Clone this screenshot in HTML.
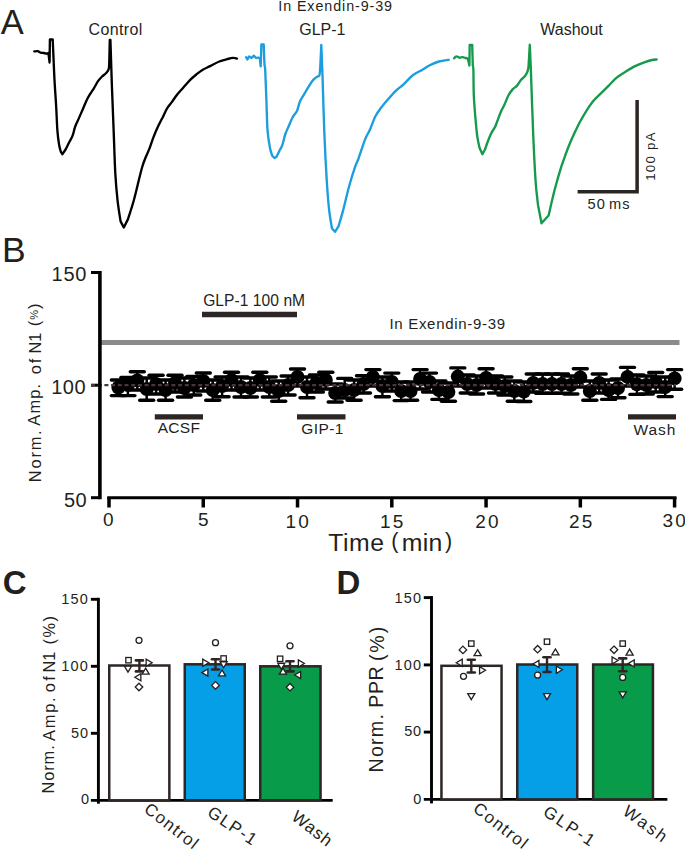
<!DOCTYPE html>
<html><head><meta charset="utf-8"><style>
html,body{margin:0;padding:0;background:#fff;}
svg{display:block;font-family:"Liberation Sans", sans-serif;}
</style></head><body>
<svg width="685" height="849" viewBox="0 0 685 849">
<rect width="685" height="849" fill="#fff"/>
<path d="M34.30,51.40 C34.87,51.35 36.63,50.88 37.70,51.10 C38.77,51.32 39.68,52.38 40.70,52.70 C41.72,53.02 42.78,52.83 43.80,53.00 C44.82,53.17 46.30,53.58 46.80,53.70 L48.40,53.00 L49.60,62.50 L49.90,39.50 L52.70,39.50 L53.30,53.00 C53.50,57.50 54.02,71.00 54.50,80.00 C54.98,89.00 55.72,98.55 56.20,107.00 C56.68,115.45 56.92,124.40 57.40,130.70 C57.88,137.00 58.52,141.27 59.10,144.80 C59.68,148.33 60.60,150.72 60.90,151.90 L62.30,154.20 L65.60,149.50 C66.18,148.33 67.92,144.85 69.10,142.50 C70.28,140.15 71.72,137.97 72.70,135.40 C73.68,132.83 74.02,129.85 75.00,127.10 C75.98,124.35 77.32,121.83 78.60,118.90 C79.88,115.97 81.43,112.45 82.70,109.50 C83.97,106.55 85.03,103.67 86.20,101.20 C87.37,98.73 88.42,96.85 89.70,94.70 C90.98,92.55 92.52,90.55 93.90,88.30 C95.28,86.05 96.63,83.17 98.00,81.20 C99.37,79.23 100.73,77.87 102.10,76.50 C103.47,75.13 105.12,74.18 106.20,73.00 C107.28,71.82 108.10,70.78 108.60,69.40 C109.10,68.02 109.10,65.48 109.20,64.70 L109.80,39.80 L110.40,39.80 L111.90,86.00 C112.20,93.65 113.13,117.37 113.70,131.90 C114.27,146.43 114.65,161.72 115.30,173.20 C115.95,184.68 116.72,192.77 117.60,200.80 C118.48,208.83 120.10,217.97 120.60,221.40 L123.80,227.50 L128.00,219.10 C128.95,216.05 131.80,207.68 133.70,200.80 C135.60,193.92 137.93,183.60 139.40,177.80 C140.87,172.00 141.45,169.42 142.50,166.00 C143.55,162.58 144.52,160.28 145.70,157.30 C146.88,154.32 148.32,151.42 149.60,148.10 C150.88,144.78 152.00,140.98 153.40,137.40 C154.80,133.82 156.33,130.18 158.00,126.60 C159.67,123.02 161.87,118.97 163.40,115.90 C164.93,112.83 165.80,110.50 167.20,108.20 C168.60,105.90 170.13,104.38 171.80,102.10 C173.47,99.82 175.17,97.05 177.20,94.50 C179.23,91.95 181.83,89.23 184.00,86.80 C186.17,84.37 188.15,81.95 190.20,79.90 C192.25,77.85 194.27,76.17 196.30,74.50 C198.33,72.83 200.10,71.30 202.40,69.90 C204.70,68.50 207.28,67.50 210.10,66.10 C212.92,64.70 216.48,62.65 219.30,61.50 C222.12,60.35 224.70,59.80 227.00,59.20 C229.30,58.60 231.43,58.00 233.10,57.90 C234.77,57.80 236.35,58.48 237.00,58.60" fill="none" stroke="#000" stroke-width="2.35" stroke-linejoin="round" stroke-linecap="round"/>
<path d="M246.10,57.20 L247.40,59.50 L249.20,56.40 L251.50,58.00 L253.80,55.70 L256.10,58.00 C256.48,57.95 257.77,57.58 258.40,57.70 C259.03,57.82 259.65,58.53 259.90,58.70 L260.70,66.40 L261.40,44.50 L263.70,44.50 L264.50,65.60 C264.62,66.33 264.88,64.22 265.20,70.00 C265.52,75.78 266.02,90.33 266.40,100.30 C266.78,110.27 266.92,121.93 267.50,129.80 C268.08,137.67 269.12,143.18 269.90,147.50 C270.68,151.82 271.82,154.33 272.20,155.70 L274.40,158.00 L276.40,156.90 C276.88,155.92 278.32,152.97 279.30,151.00 C280.28,149.03 281.32,147.85 282.30,145.10 C283.28,142.35 284.13,137.65 285.20,134.50 C286.27,131.35 287.42,129.15 288.70,126.20 C289.98,123.25 291.52,119.35 292.90,116.80 C294.28,114.25 295.83,113.45 297.00,110.90 C298.17,108.35 298.73,104.25 299.90,101.50 C301.07,98.75 302.62,96.75 304.00,94.40 C305.38,92.05 306.72,89.75 308.20,87.40 C309.68,85.05 311.43,82.07 312.90,80.30 C314.37,78.53 315.92,77.63 317.00,76.80 C318.08,75.97 318.87,76.77 319.40,75.30 C319.93,73.83 320.07,69.22 320.20,68.00 L321.30,45.00 L322.50,75.30 C322.82,85.12 323.68,116.53 324.40,134.20 C325.12,151.87 326.02,168.73 326.80,181.30 C327.58,193.87 328.23,201.73 329.10,209.60 C329.97,217.47 331.52,225.35 332.00,228.50 L335.00,231.80 L338.60,226.10 C339.38,223.35 341.53,216.28 343.30,209.60 C345.07,202.92 347.25,193.07 349.20,186.00 C351.15,178.93 353.47,171.73 355.00,167.20 C356.53,162.67 357.32,161.73 358.40,158.80 C359.48,155.87 360.35,152.92 361.50,149.60 C362.65,146.28 363.90,142.22 365.30,138.90 C366.70,135.58 368.23,133.43 369.90,129.70 C371.57,125.97 373.50,120.08 375.30,116.50 C377.10,112.92 378.53,111.12 380.70,108.20 C382.87,105.28 385.75,101.93 388.30,99.00 C390.85,96.07 393.45,93.05 396.00,90.60 C398.55,88.15 400.80,86.85 403.60,84.30 C406.40,81.75 409.73,77.70 412.80,75.30 C415.87,72.90 419.18,71.57 422.00,69.90 C424.82,68.23 426.88,66.70 429.70,65.30 C432.52,63.90 435.75,62.42 438.90,61.50 C442.05,60.58 446.98,60.08 448.60,59.80" fill="none" stroke="#1b9ddf" stroke-width="2.35" stroke-linejoin="round" stroke-linecap="round"/>
<path d="M454.10,58.30 C454.48,57.98 455.50,56.50 456.40,56.40 C457.30,56.30 458.48,57.57 459.50,57.70 C460.52,57.83 461.48,57.15 462.50,57.20 C463.52,57.25 464.70,57.75 465.60,58.00 C466.50,58.25 467.52,58.58 467.90,58.70 L469.40,65.60 L469.70,44.80 L472.20,44.80 L472.80,65.60 C472.90,66.33 473.23,65.05 473.40,70.00 C473.57,74.95 473.45,87.15 473.80,95.30 C474.15,103.45 474.92,112.02 475.50,118.90 C476.08,125.78 476.60,131.70 477.30,136.60 C478.00,141.50 479.30,146.35 479.70,148.30 L482.40,154.20 L485.00,149.50 C485.48,148.13 486.83,144.05 487.90,141.30 C488.97,138.55 490.22,135.37 491.40,133.00 C492.58,130.63 494.02,129.07 495.00,127.10 C495.98,125.13 496.32,123.75 497.30,121.20 C498.28,118.65 499.72,114.53 500.90,111.80 C502.08,109.07 503.13,107.55 504.40,104.80 C505.67,102.05 507.13,97.87 508.50,95.30 C509.87,92.73 511.22,90.97 512.60,89.40 C513.98,87.83 515.42,87.47 516.80,85.90 C518.18,84.33 519.53,81.67 520.90,80.00 C522.27,78.33 523.92,77.27 525.00,75.90 C526.08,74.53 526.82,73.27 527.40,71.80 C527.98,70.33 528.32,67.88 528.50,67.10 L529.80,44.80 L530.90,70.60 C531.28,81.20 532.42,115.75 533.20,134.20 C533.98,152.65 534.80,169.52 535.60,181.30 C536.40,193.08 537.60,200.97 538.00,204.90 L541.50,223.30 L548.60,215.50 C549.57,211.38 552.45,198.40 554.40,190.80 C556.35,183.20 558.60,175.48 560.30,169.90 C562.00,164.32 563.12,161.45 564.60,157.30 C566.08,153.15 567.53,149.08 569.20,145.00 C570.87,140.92 572.82,136.63 574.60,132.80 C576.38,128.97 577.98,125.58 579.90,122.00 C581.82,118.42 583.80,114.87 586.10,111.30 C588.40,107.73 591.15,103.67 593.70,100.60 C596.25,97.53 598.85,95.45 601.40,92.90 C603.95,90.35 606.45,87.85 609.00,85.30 C611.55,82.75 613.88,79.90 616.70,77.60 C619.52,75.30 622.83,73.42 625.90,71.50 C628.97,69.58 632.03,67.63 635.10,66.10 C638.17,64.57 641.48,63.32 644.30,62.30 C647.12,61.28 649.95,60.47 652.00,60.00 C654.05,59.53 655.83,59.58 656.60,59.50" fill="none" stroke="#15994b" stroke-width="2.35" stroke-linejoin="round" stroke-linecap="round"/>
<polyline points="577.6,191.7 637.1,191.7 637.1,100.1" fill="none" stroke="#2b2523" stroke-width="3.5"/>
<line x1="100" y1="342.5" x2="679.5" y2="342.5" stroke="#8b8b8b" stroke-width="5.2"/>
<line x1="202" y1="314.5" x2="297" y2="314.5" stroke="#2e2624" stroke-width="5.3"/>
<line x1="154.8" y1="416.8" x2="203" y2="416.8" stroke="#2e2624" stroke-width="5.3"/>
<line x1="297" y1="416.9" x2="345.5" y2="416.9" stroke="#2e2624" stroke-width="5.3"/>
<line x1="628" y1="416.9" x2="676" y2="416.9" stroke="#2e2624" stroke-width="5.3"/>
<line x1="118.4" y1="380.0" x2="118.4" y2="395.6" stroke="#000" stroke-width="2.5"/>
<line x1="111.4" y1="380.0" x2="125.4" y2="380.0" stroke="#000" stroke-width="3.4" stroke-linecap="round"/>
<line x1="111.4" y1="395.6" x2="125.4" y2="395.6" stroke="#000" stroke-width="3.4" stroke-linecap="round"/>
<circle cx="118.4" cy="387.5" r="7" fill="#000"/>
<line x1="127.9" y1="377.5" x2="127.9" y2="395.6" stroke="#000" stroke-width="2.5"/>
<line x1="120.9" y1="377.5" x2="134.9" y2="377.5" stroke="#000" stroke-width="3.4" stroke-linecap="round"/>
<line x1="120.9" y1="395.6" x2="134.9" y2="395.6" stroke="#000" stroke-width="3.4" stroke-linecap="round"/>
<circle cx="127.9" cy="385.0" r="7" fill="#000"/>
<line x1="137.3" y1="371.7" x2="137.3" y2="390.0" stroke="#000" stroke-width="2.5"/>
<line x1="130.3" y1="371.7" x2="144.3" y2="371.7" stroke="#000" stroke-width="3.4" stroke-linecap="round"/>
<line x1="130.3" y1="390.0" x2="144.3" y2="390.0" stroke="#000" stroke-width="3.4" stroke-linecap="round"/>
<circle cx="137.3" cy="380.4" r="7" fill="#000"/>
<line x1="146.7" y1="378.0" x2="146.7" y2="400.3" stroke="#000" stroke-width="2.5"/>
<line x1="139.7" y1="378.0" x2="153.7" y2="378.0" stroke="#000" stroke-width="3.4" stroke-linecap="round"/>
<line x1="139.7" y1="400.3" x2="153.7" y2="400.3" stroke="#000" stroke-width="3.4" stroke-linecap="round"/>
<circle cx="146.7" cy="389.0" r="7" fill="#000"/>
<line x1="156.1" y1="375.2" x2="156.1" y2="394.0" stroke="#000" stroke-width="2.5"/>
<line x1="149.1" y1="375.2" x2="163.1" y2="375.2" stroke="#000" stroke-width="3.4" stroke-linecap="round"/>
<line x1="149.1" y1="394.0" x2="163.1" y2="394.0" stroke="#000" stroke-width="3.4" stroke-linecap="round"/>
<circle cx="156.1" cy="384.0" r="7" fill="#000"/>
<line x1="165.6" y1="380.0" x2="165.6" y2="400.3" stroke="#000" stroke-width="2.5"/>
<line x1="158.6" y1="380.0" x2="172.6" y2="380.0" stroke="#000" stroke-width="3.4" stroke-linecap="round"/>
<line x1="158.6" y1="400.3" x2="172.6" y2="400.3" stroke="#000" stroke-width="3.4" stroke-linecap="round"/>
<circle cx="165.6" cy="390.0" r="7" fill="#000"/>
<line x1="175.0" y1="375.2" x2="175.0" y2="392.0" stroke="#000" stroke-width="2.5"/>
<line x1="168.0" y1="375.2" x2="182.0" y2="375.2" stroke="#000" stroke-width="3.4" stroke-linecap="round"/>
<line x1="168.0" y1="392.0" x2="182.0" y2="392.0" stroke="#000" stroke-width="3.4" stroke-linecap="round"/>
<circle cx="175.0" cy="383.0" r="7" fill="#000"/>
<line x1="184.4" y1="378.0" x2="184.4" y2="397.0" stroke="#000" stroke-width="2.5"/>
<line x1="177.4" y1="378.0" x2="191.4" y2="378.0" stroke="#000" stroke-width="3.4" stroke-linecap="round"/>
<line x1="177.4" y1="397.0" x2="191.4" y2="397.0" stroke="#000" stroke-width="3.4" stroke-linecap="round"/>
<circle cx="184.4" cy="388.0" r="7" fill="#000"/>
<line x1="193.8" y1="376.5" x2="193.8" y2="395.0" stroke="#000" stroke-width="2.5"/>
<line x1="186.8" y1="376.5" x2="200.8" y2="376.5" stroke="#000" stroke-width="3.4" stroke-linecap="round"/>
<line x1="186.8" y1="395.0" x2="200.8" y2="395.0" stroke="#000" stroke-width="3.4" stroke-linecap="round"/>
<circle cx="193.8" cy="385.0" r="7" fill="#000"/>
<line x1="203.3" y1="373.0" x2="203.3" y2="391.0" stroke="#000" stroke-width="2.5"/>
<line x1="196.3" y1="373.0" x2="210.3" y2="373.0" stroke="#000" stroke-width="3.4" stroke-linecap="round"/>
<line x1="196.3" y1="391.0" x2="210.3" y2="391.0" stroke="#000" stroke-width="3.4" stroke-linecap="round"/>
<circle cx="203.3" cy="381.0" r="7" fill="#000"/>
<line x1="212.7" y1="380.0" x2="212.7" y2="400.3" stroke="#000" stroke-width="2.5"/>
<line x1="205.7" y1="380.0" x2="219.7" y2="380.0" stroke="#000" stroke-width="3.4" stroke-linecap="round"/>
<line x1="205.7" y1="400.3" x2="219.7" y2="400.3" stroke="#000" stroke-width="3.4" stroke-linecap="round"/>
<circle cx="212.7" cy="390.0" r="7" fill="#000"/>
<line x1="222.1" y1="377.0" x2="222.1" y2="396.8" stroke="#000" stroke-width="2.5"/>
<line x1="215.1" y1="377.0" x2="229.1" y2="377.0" stroke="#000" stroke-width="3.4" stroke-linecap="round"/>
<line x1="215.1" y1="396.8" x2="229.1" y2="396.8" stroke="#000" stroke-width="3.4" stroke-linecap="round"/>
<circle cx="222.1" cy="386.0" r="7" fill="#000"/>
<line x1="231.5" y1="372.3" x2="231.5" y2="390.0" stroke="#000" stroke-width="2.5"/>
<line x1="224.5" y1="372.3" x2="238.5" y2="372.3" stroke="#000" stroke-width="3.4" stroke-linecap="round"/>
<line x1="224.5" y1="390.0" x2="238.5" y2="390.0" stroke="#000" stroke-width="3.4" stroke-linecap="round"/>
<circle cx="231.5" cy="380.0" r="7" fill="#000"/>
<line x1="241.0" y1="377.0" x2="241.0" y2="397.0" stroke="#000" stroke-width="2.5"/>
<line x1="234.0" y1="377.0" x2="248.0" y2="377.0" stroke="#000" stroke-width="3.4" stroke-linecap="round"/>
<line x1="234.0" y1="397.0" x2="248.0" y2="397.0" stroke="#000" stroke-width="3.4" stroke-linecap="round"/>
<circle cx="241.0" cy="387.0" r="7" fill="#000"/>
<line x1="250.4" y1="378.0" x2="250.4" y2="397.0" stroke="#000" stroke-width="2.5"/>
<line x1="243.4" y1="378.0" x2="257.4" y2="378.0" stroke="#000" stroke-width="3.4" stroke-linecap="round"/>
<line x1="243.4" y1="397.0" x2="257.4" y2="397.0" stroke="#000" stroke-width="3.4" stroke-linecap="round"/>
<circle cx="250.4" cy="388.0" r="7" fill="#000"/>
<line x1="259.8" y1="372.3" x2="259.8" y2="390.0" stroke="#000" stroke-width="2.5"/>
<line x1="252.8" y1="372.3" x2="266.8" y2="372.3" stroke="#000" stroke-width="3.4" stroke-linecap="round"/>
<line x1="252.8" y1="390.0" x2="266.8" y2="390.0" stroke="#000" stroke-width="3.4" stroke-linecap="round"/>
<circle cx="259.8" cy="380.0" r="7" fill="#000"/>
<line x1="269.3" y1="377.0" x2="269.3" y2="397.0" stroke="#000" stroke-width="2.5"/>
<line x1="262.3" y1="377.0" x2="276.3" y2="377.0" stroke="#000" stroke-width="3.4" stroke-linecap="round"/>
<line x1="262.3" y1="397.0" x2="276.3" y2="397.0" stroke="#000" stroke-width="3.4" stroke-linecap="round"/>
<circle cx="269.3" cy="387.0" r="7" fill="#000"/>
<line x1="278.7" y1="381.0" x2="278.7" y2="401.2" stroke="#000" stroke-width="2.5"/>
<line x1="271.7" y1="381.0" x2="285.7" y2="381.0" stroke="#000" stroke-width="3.4" stroke-linecap="round"/>
<line x1="271.7" y1="401.2" x2="285.7" y2="401.2" stroke="#000" stroke-width="3.4" stroke-linecap="round"/>
<circle cx="278.7" cy="391.0" r="7" fill="#000"/>
<line x1="288.1" y1="376.0" x2="288.1" y2="395.0" stroke="#000" stroke-width="2.5"/>
<line x1="281.1" y1="376.0" x2="295.1" y2="376.0" stroke="#000" stroke-width="3.4" stroke-linecap="round"/>
<line x1="281.1" y1="395.0" x2="295.1" y2="395.0" stroke="#000" stroke-width="3.4" stroke-linecap="round"/>
<circle cx="288.1" cy="385.0" r="7" fill="#000"/>
<line x1="297.5" y1="369.0" x2="297.5" y2="386.0" stroke="#000" stroke-width="2.5"/>
<line x1="290.5" y1="369.0" x2="304.5" y2="369.0" stroke="#000" stroke-width="3.4" stroke-linecap="round"/>
<line x1="290.5" y1="386.0" x2="304.5" y2="386.0" stroke="#000" stroke-width="3.4" stroke-linecap="round"/>
<circle cx="297.5" cy="377.0" r="7" fill="#000"/>
<line x1="307.0" y1="377.0" x2="307.0" y2="397.7" stroke="#000" stroke-width="2.5"/>
<line x1="300.0" y1="377.0" x2="314.0" y2="377.0" stroke="#000" stroke-width="3.4" stroke-linecap="round"/>
<line x1="300.0" y1="397.7" x2="314.0" y2="397.7" stroke="#000" stroke-width="3.4" stroke-linecap="round"/>
<circle cx="307.0" cy="387.0" r="7" fill="#000"/>
<line x1="316.4" y1="375.0" x2="316.4" y2="392.0" stroke="#000" stroke-width="2.5"/>
<line x1="309.4" y1="375.0" x2="323.4" y2="375.0" stroke="#000" stroke-width="3.4" stroke-linecap="round"/>
<line x1="309.4" y1="392.0" x2="323.4" y2="392.0" stroke="#000" stroke-width="3.4" stroke-linecap="round"/>
<circle cx="316.4" cy="383.0" r="7" fill="#000"/>
<line x1="325.8" y1="372.3" x2="325.8" y2="389.0" stroke="#000" stroke-width="2.5"/>
<line x1="318.8" y1="372.3" x2="332.8" y2="372.3" stroke="#000" stroke-width="3.4" stroke-linecap="round"/>
<line x1="318.8" y1="389.0" x2="332.8" y2="389.0" stroke="#000" stroke-width="3.4" stroke-linecap="round"/>
<circle cx="325.8" cy="380.0" r="7" fill="#000"/>
<line x1="335.2" y1="384.0" x2="335.2" y2="402.0" stroke="#000" stroke-width="2.5"/>
<line x1="328.2" y1="384.0" x2="342.2" y2="384.0" stroke="#000" stroke-width="3.4" stroke-linecap="round"/>
<line x1="328.2" y1="402.0" x2="342.2" y2="402.0" stroke="#000" stroke-width="3.4" stroke-linecap="round"/>
<circle cx="335.2" cy="393.0" r="7" fill="#000"/>
<line x1="344.7" y1="378.4" x2="344.7" y2="398.0" stroke="#000" stroke-width="2.5"/>
<line x1="337.7" y1="378.4" x2="351.7" y2="378.4" stroke="#000" stroke-width="3.4" stroke-linecap="round"/>
<line x1="337.7" y1="398.0" x2="351.7" y2="398.0" stroke="#000" stroke-width="3.4" stroke-linecap="round"/>
<circle cx="344.7" cy="390.0" r="7" fill="#000"/>
<line x1="354.1" y1="380.0" x2="354.1" y2="400.3" stroke="#000" stroke-width="2.5"/>
<line x1="347.1" y1="380.0" x2="361.1" y2="380.0" stroke="#000" stroke-width="3.4" stroke-linecap="round"/>
<line x1="347.1" y1="400.3" x2="361.1" y2="400.3" stroke="#000" stroke-width="3.4" stroke-linecap="round"/>
<circle cx="354.1" cy="390.0" r="7" fill="#000"/>
<line x1="363.5" y1="375.8" x2="363.5" y2="393.0" stroke="#000" stroke-width="2.5"/>
<line x1="356.5" y1="375.8" x2="370.5" y2="375.8" stroke="#000" stroke-width="3.4" stroke-linecap="round"/>
<line x1="356.5" y1="393.0" x2="370.5" y2="393.0" stroke="#000" stroke-width="3.4" stroke-linecap="round"/>
<circle cx="363.5" cy="384.0" r="7" fill="#000"/>
<line x1="372.9" y1="369.6" x2="372.9" y2="386.0" stroke="#000" stroke-width="2.5"/>
<line x1="365.9" y1="369.6" x2="379.9" y2="369.6" stroke="#000" stroke-width="3.4" stroke-linecap="round"/>
<line x1="365.9" y1="386.0" x2="379.9" y2="386.0" stroke="#000" stroke-width="3.4" stroke-linecap="round"/>
<circle cx="372.9" cy="377.0" r="7" fill="#000"/>
<line x1="382.4" y1="377.0" x2="382.4" y2="396.8" stroke="#000" stroke-width="2.5"/>
<line x1="375.4" y1="377.0" x2="389.4" y2="377.0" stroke="#000" stroke-width="3.4" stroke-linecap="round"/>
<line x1="375.4" y1="396.8" x2="389.4" y2="396.8" stroke="#000" stroke-width="3.4" stroke-linecap="round"/>
<circle cx="382.4" cy="386.0" r="7" fill="#000"/>
<line x1="391.8" y1="373.1" x2="391.8" y2="391.0" stroke="#000" stroke-width="2.5"/>
<line x1="384.8" y1="373.1" x2="398.8" y2="373.1" stroke="#000" stroke-width="3.4" stroke-linecap="round"/>
<line x1="384.8" y1="391.0" x2="398.8" y2="391.0" stroke="#000" stroke-width="3.4" stroke-linecap="round"/>
<circle cx="391.8" cy="382.0" r="7" fill="#000"/>
<line x1="401.2" y1="382.0" x2="401.2" y2="400.6" stroke="#000" stroke-width="2.5"/>
<line x1="394.2" y1="382.0" x2="408.2" y2="382.0" stroke="#000" stroke-width="3.4" stroke-linecap="round"/>
<line x1="394.2" y1="400.6" x2="408.2" y2="400.6" stroke="#000" stroke-width="3.4" stroke-linecap="round"/>
<circle cx="401.2" cy="391.0" r="7" fill="#000"/>
<line x1="410.6" y1="382.0" x2="410.6" y2="400.3" stroke="#000" stroke-width="2.5"/>
<line x1="403.6" y1="382.0" x2="417.6" y2="382.0" stroke="#000" stroke-width="3.4" stroke-linecap="round"/>
<line x1="403.6" y1="400.3" x2="417.6" y2="400.3" stroke="#000" stroke-width="3.4" stroke-linecap="round"/>
<circle cx="410.6" cy="391.0" r="7" fill="#000"/>
<line x1="420.1" y1="369.6" x2="420.1" y2="389.0" stroke="#000" stroke-width="2.5"/>
<line x1="413.1" y1="369.6" x2="427.1" y2="369.6" stroke="#000" stroke-width="3.4" stroke-linecap="round"/>
<line x1="413.1" y1="389.0" x2="427.1" y2="389.0" stroke="#000" stroke-width="3.4" stroke-linecap="round"/>
<circle cx="420.1" cy="379.0" r="7" fill="#000"/>
<line x1="429.5" y1="373.1" x2="429.5" y2="392.0" stroke="#000" stroke-width="2.5"/>
<line x1="422.5" y1="373.1" x2="436.5" y2="373.1" stroke="#000" stroke-width="3.4" stroke-linecap="round"/>
<line x1="422.5" y1="392.0" x2="436.5" y2="392.0" stroke="#000" stroke-width="3.4" stroke-linecap="round"/>
<circle cx="429.5" cy="382.0" r="7" fill="#000"/>
<line x1="438.9" y1="381.0" x2="438.9" y2="399.4" stroke="#000" stroke-width="2.5"/>
<line x1="431.9" y1="381.0" x2="445.9" y2="381.0" stroke="#000" stroke-width="3.4" stroke-linecap="round"/>
<line x1="431.9" y1="399.4" x2="445.9" y2="399.4" stroke="#000" stroke-width="3.4" stroke-linecap="round"/>
<circle cx="438.9" cy="390.0" r="7" fill="#000"/>
<line x1="448.4" y1="383.0" x2="448.4" y2="401.2" stroke="#000" stroke-width="2.5"/>
<line x1="441.4" y1="383.0" x2="455.4" y2="383.0" stroke="#000" stroke-width="3.4" stroke-linecap="round"/>
<line x1="441.4" y1="401.2" x2="455.4" y2="401.2" stroke="#000" stroke-width="3.4" stroke-linecap="round"/>
<circle cx="448.4" cy="392.0" r="7" fill="#000"/>
<line x1="457.8" y1="367.9" x2="457.8" y2="386.0" stroke="#000" stroke-width="2.5"/>
<line x1="450.8" y1="367.9" x2="464.8" y2="367.9" stroke="#000" stroke-width="3.4" stroke-linecap="round"/>
<line x1="450.8" y1="386.0" x2="464.8" y2="386.0" stroke="#000" stroke-width="3.4" stroke-linecap="round"/>
<circle cx="457.8" cy="376.6" r="7" fill="#000"/>
<line x1="467.2" y1="375.0" x2="467.2" y2="393.0" stroke="#000" stroke-width="2.5"/>
<line x1="460.2" y1="375.0" x2="474.2" y2="375.0" stroke="#000" stroke-width="3.4" stroke-linecap="round"/>
<line x1="460.2" y1="393.0" x2="474.2" y2="393.0" stroke="#000" stroke-width="3.4" stroke-linecap="round"/>
<circle cx="467.2" cy="384.0" r="7" fill="#000"/>
<line x1="476.6" y1="376.0" x2="476.6" y2="394.0" stroke="#000" stroke-width="2.5"/>
<line x1="469.6" y1="376.0" x2="483.6" y2="376.0" stroke="#000" stroke-width="3.4" stroke-linecap="round"/>
<line x1="469.6" y1="394.0" x2="483.6" y2="394.0" stroke="#000" stroke-width="3.4" stroke-linecap="round"/>
<circle cx="476.6" cy="385.0" r="7" fill="#000"/>
<line x1="486.1" y1="368.8" x2="486.1" y2="388.0" stroke="#000" stroke-width="2.5"/>
<line x1="479.1" y1="368.8" x2="493.1" y2="368.8" stroke="#000" stroke-width="3.4" stroke-linecap="round"/>
<line x1="479.1" y1="388.0" x2="493.1" y2="388.0" stroke="#000" stroke-width="3.4" stroke-linecap="round"/>
<circle cx="486.1" cy="378.0" r="7" fill="#000"/>
<line x1="495.5" y1="376.0" x2="495.5" y2="393.0" stroke="#000" stroke-width="2.5"/>
<line x1="488.5" y1="376.0" x2="502.5" y2="376.0" stroke="#000" stroke-width="3.4" stroke-linecap="round"/>
<line x1="488.5" y1="393.0" x2="502.5" y2="393.0" stroke="#000" stroke-width="3.4" stroke-linecap="round"/>
<circle cx="495.5" cy="384.0" r="7" fill="#000"/>
<line x1="504.9" y1="377.0" x2="504.9" y2="395.0" stroke="#000" stroke-width="2.5"/>
<line x1="497.9" y1="377.0" x2="511.9" y2="377.0" stroke="#000" stroke-width="3.4" stroke-linecap="round"/>
<line x1="497.9" y1="395.0" x2="511.9" y2="395.0" stroke="#000" stroke-width="3.4" stroke-linecap="round"/>
<circle cx="504.9" cy="386.0" r="7" fill="#000"/>
<line x1="514.3" y1="381.0" x2="514.3" y2="401.2" stroke="#000" stroke-width="2.5"/>
<line x1="507.3" y1="381.0" x2="521.3" y2="381.0" stroke="#000" stroke-width="3.4" stroke-linecap="round"/>
<line x1="507.3" y1="401.2" x2="521.3" y2="401.2" stroke="#000" stroke-width="3.4" stroke-linecap="round"/>
<circle cx="514.3" cy="391.0" r="7" fill="#000"/>
<line x1="523.8" y1="382.0" x2="523.8" y2="401.5" stroke="#000" stroke-width="2.5"/>
<line x1="516.8" y1="382.0" x2="530.8" y2="382.0" stroke="#000" stroke-width="3.4" stroke-linecap="round"/>
<line x1="516.8" y1="401.5" x2="530.8" y2="401.5" stroke="#000" stroke-width="3.4" stroke-linecap="round"/>
<circle cx="523.8" cy="391.5" r="7" fill="#000"/>
<line x1="533.2" y1="374.0" x2="533.2" y2="392.0" stroke="#000" stroke-width="2.5"/>
<line x1="526.2" y1="374.0" x2="540.2" y2="374.0" stroke="#000" stroke-width="3.4" stroke-linecap="round"/>
<line x1="526.2" y1="392.0" x2="540.2" y2="392.0" stroke="#000" stroke-width="3.4" stroke-linecap="round"/>
<circle cx="533.2" cy="383.0" r="7" fill="#000"/>
<line x1="542.6" y1="374.0" x2="542.6" y2="393.3" stroke="#000" stroke-width="2.5"/>
<line x1="535.6" y1="374.0" x2="549.6" y2="374.0" stroke="#000" stroke-width="3.4" stroke-linecap="round"/>
<line x1="535.6" y1="393.3" x2="549.6" y2="393.3" stroke="#000" stroke-width="3.4" stroke-linecap="round"/>
<circle cx="542.6" cy="384.0" r="7" fill="#000"/>
<line x1="552.0" y1="374.0" x2="552.0" y2="393.3" stroke="#000" stroke-width="2.5"/>
<line x1="545.0" y1="374.0" x2="559.0" y2="374.0" stroke="#000" stroke-width="3.4" stroke-linecap="round"/>
<line x1="545.0" y1="393.3" x2="559.0" y2="393.3" stroke="#000" stroke-width="3.4" stroke-linecap="round"/>
<circle cx="552.0" cy="384.0" r="7" fill="#000"/>
<line x1="561.5" y1="374.0" x2="561.5" y2="393.3" stroke="#000" stroke-width="2.5"/>
<line x1="554.5" y1="374.0" x2="568.5" y2="374.0" stroke="#000" stroke-width="3.4" stroke-linecap="round"/>
<line x1="554.5" y1="393.3" x2="568.5" y2="393.3" stroke="#000" stroke-width="3.4" stroke-linecap="round"/>
<circle cx="561.5" cy="384.0" r="7" fill="#000"/>
<line x1="570.9" y1="376.0" x2="570.9" y2="394.0" stroke="#000" stroke-width="2.5"/>
<line x1="563.9" y1="376.0" x2="577.9" y2="376.0" stroke="#000" stroke-width="3.4" stroke-linecap="round"/>
<line x1="563.9" y1="394.0" x2="577.9" y2="394.0" stroke="#000" stroke-width="3.4" stroke-linecap="round"/>
<circle cx="570.9" cy="385.0" r="7" fill="#000"/>
<line x1="580.3" y1="368.8" x2="580.3" y2="387.0" stroke="#000" stroke-width="2.5"/>
<line x1="573.3" y1="368.8" x2="587.3" y2="368.8" stroke="#000" stroke-width="3.4" stroke-linecap="round"/>
<line x1="573.3" y1="387.0" x2="587.3" y2="387.0" stroke="#000" stroke-width="3.4" stroke-linecap="round"/>
<circle cx="580.3" cy="377.5" r="7" fill="#000"/>
<line x1="589.8" y1="381.0" x2="589.8" y2="400.3" stroke="#000" stroke-width="2.5"/>
<line x1="582.8" y1="381.0" x2="596.8" y2="381.0" stroke="#000" stroke-width="3.4" stroke-linecap="round"/>
<line x1="582.8" y1="400.3" x2="596.8" y2="400.3" stroke="#000" stroke-width="3.4" stroke-linecap="round"/>
<circle cx="589.8" cy="391.0" r="7" fill="#000"/>
<line x1="599.2" y1="374.0" x2="599.2" y2="393.0" stroke="#000" stroke-width="2.5"/>
<line x1="592.2" y1="374.0" x2="606.2" y2="374.0" stroke="#000" stroke-width="3.4" stroke-linecap="round"/>
<line x1="592.2" y1="393.0" x2="606.2" y2="393.0" stroke="#000" stroke-width="3.4" stroke-linecap="round"/>
<circle cx="599.2" cy="383.0" r="7" fill="#000"/>
<line x1="608.6" y1="380.0" x2="608.6" y2="399.4" stroke="#000" stroke-width="2.5"/>
<line x1="601.6" y1="380.0" x2="615.6" y2="380.0" stroke="#000" stroke-width="3.4" stroke-linecap="round"/>
<line x1="601.6" y1="399.4" x2="615.6" y2="399.4" stroke="#000" stroke-width="3.4" stroke-linecap="round"/>
<circle cx="608.6" cy="390.0" r="7" fill="#000"/>
<line x1="618.0" y1="379.0" x2="618.0" y2="397.7" stroke="#000" stroke-width="2.5"/>
<line x1="611.0" y1="379.0" x2="625.0" y2="379.0" stroke="#000" stroke-width="3.4" stroke-linecap="round"/>
<line x1="611.0" y1="397.7" x2="625.0" y2="397.7" stroke="#000" stroke-width="3.4" stroke-linecap="round"/>
<circle cx="618.0" cy="388.0" r="7" fill="#000"/>
<line x1="627.5" y1="367.4" x2="627.5" y2="386.0" stroke="#000" stroke-width="2.5"/>
<line x1="620.5" y1="367.4" x2="634.5" y2="367.4" stroke="#000" stroke-width="3.4" stroke-linecap="round"/>
<line x1="620.5" y1="386.0" x2="634.5" y2="386.0" stroke="#000" stroke-width="3.4" stroke-linecap="round"/>
<circle cx="627.5" cy="376.9" r="7" fill="#000"/>
<line x1="636.9" y1="375.0" x2="636.9" y2="394.4" stroke="#000" stroke-width="2.5"/>
<line x1="629.9" y1="375.0" x2="643.9" y2="375.0" stroke="#000" stroke-width="3.4" stroke-linecap="round"/>
<line x1="629.9" y1="394.4" x2="643.9" y2="394.4" stroke="#000" stroke-width="3.4" stroke-linecap="round"/>
<circle cx="636.9" cy="384.2" r="7" fill="#000"/>
<line x1="646.3" y1="376.0" x2="646.3" y2="394.0" stroke="#000" stroke-width="2.5"/>
<line x1="639.3" y1="376.0" x2="653.3" y2="376.0" stroke="#000" stroke-width="3.4" stroke-linecap="round"/>
<line x1="639.3" y1="394.0" x2="653.3" y2="394.0" stroke="#000" stroke-width="3.4" stroke-linecap="round"/>
<circle cx="646.3" cy="385.0" r="7" fill="#000"/>
<line x1="655.7" y1="372.5" x2="655.7" y2="392.0" stroke="#000" stroke-width="2.5"/>
<line x1="648.7" y1="372.5" x2="662.7" y2="372.5" stroke="#000" stroke-width="3.4" stroke-linecap="round"/>
<line x1="648.7" y1="392.0" x2="662.7" y2="392.0" stroke="#000" stroke-width="3.4" stroke-linecap="round"/>
<circle cx="655.7" cy="382.0" r="7" fill="#000"/>
<line x1="665.2" y1="377.0" x2="665.2" y2="396.6" stroke="#000" stroke-width="2.5"/>
<line x1="658.2" y1="377.0" x2="672.2" y2="377.0" stroke="#000" stroke-width="3.4" stroke-linecap="round"/>
<line x1="658.2" y1="396.6" x2="672.2" y2="396.6" stroke="#000" stroke-width="3.4" stroke-linecap="round"/>
<circle cx="665.2" cy="387.0" r="7" fill="#000"/>
<line x1="674.6" y1="369.6" x2="674.6" y2="389.3" stroke="#000" stroke-width="2.5"/>
<line x1="667.6" y1="369.6" x2="681.6" y2="369.6" stroke="#000" stroke-width="3.4" stroke-linecap="round"/>
<line x1="667.6" y1="389.3" x2="681.6" y2="389.3" stroke="#000" stroke-width="3.4" stroke-linecap="round"/>
<circle cx="674.6" cy="378.4" r="7" fill="#000"/>
<line x1="91" y1="272.5" x2="100" y2="272.5" stroke="#000" stroke-width="3"/>
<line x1="91" y1="385.2" x2="100" y2="385.2" stroke="#000" stroke-width="3"/>
<line x1="91" y1="497.7" x2="100" y2="497.7" stroke="#000" stroke-width="3"/>
<line x1="91" y1="385.2" x2="676" y2="385.2" stroke="#453836" stroke-width="2.3" stroke-dasharray="4 2.7"/>
<line x1="99.9" y1="271" x2="99.9" y2="499.2" stroke="#000" stroke-width="3.6"/>
<line x1="107.3" y1="497.7" x2="676.5" y2="497.7" stroke="#000" stroke-width="3"/>
<line x1="109.00" y1="497" x2="109.00" y2="507.5" stroke="#000" stroke-width="3.5"/>
<line x1="203.27" y1="497" x2="203.27" y2="507.5" stroke="#000" stroke-width="3.5"/>
<line x1="297.53" y1="497" x2="297.53" y2="507.5" stroke="#000" stroke-width="3.5"/>
<line x1="391.80" y1="497" x2="391.80" y2="507.5" stroke="#000" stroke-width="3.5"/>
<line x1="486.06" y1="497" x2="486.06" y2="507.5" stroke="#000" stroke-width="3.5"/>
<line x1="580.33" y1="497" x2="580.33" y2="507.5" stroke="#000" stroke-width="3.5"/>
<line x1="674.59" y1="497" x2="674.59" y2="507.5" stroke="#000" stroke-width="3.5"/>
<line x1="90.9" y1="800.3" x2="332.7" y2="800.3" stroke="#000" stroke-width="2.8"/>
<rect x="109.25" y="665.5" width="60.099999999999994" height="134.79999999999995" fill="#ffffff" stroke="#2e2624" stroke-width="2.5"/>
<rect x="184.75" y="664.3" width="60.0" height="136.0" fill="#049fe6" stroke="#2e2624" stroke-width="2.5"/>
<rect x="260.25" y="666.3" width="60.30000000000001" height="134.0" fill="#089c4a" stroke="#2e2624" stroke-width="2.5"/>
<circle cx="139" cy="640.3" r="3.0" fill="#fff" stroke="#231f20" stroke-width="1.3"/>
<rect x="125.8" y="657.5" width="5.4" height="5.4" fill="#fff" stroke="#231f20" stroke-width="1.3"/>
<polygon points="152.15,662.8 146.15,666.3625 146.15,659.2375" fill="#fff" stroke="#231f20" stroke-width="1.3"/>
<polygon points="128,672.15 131.5625,666.15 124.4375,666.15" fill="#fff" stroke="#231f20" stroke-width="1.3"/>
<polygon points="145.6,668.15 149.1625,674.15 142.0375,674.15" fill="#fff" stroke="#231f20" stroke-width="1.3"/>
<polygon points="134.85,677.2 140.85,680.7625 140.85,673.6375" fill="#fff" stroke="#231f20" stroke-width="1.3"/>
<polygon points="139,683.25 142.75,687 139,690.75 135.25,687" fill="#fff" stroke="#231f20" stroke-width="1.3"/>
<circle cx="215.5" cy="642.7" r="3.0" fill="#fff" stroke="#231f20" stroke-width="1.3"/>
<polygon points="208.75,662.8 202.75,666.3625 202.75,659.2375" fill="#fff" stroke="#231f20" stroke-width="1.3"/>
<rect x="220.9" y="655.8" width="5.4" height="5.4" fill="#fff" stroke="#231f20" stroke-width="1.3"/>
<polygon points="223.6,667.75 227.1625,661.75 220.0375,661.75" fill="#fff" stroke="#231f20" stroke-width="1.3"/>
<polygon points="201.85,672.6 207.85,676.1625 207.85,669.0375" fill="#fff" stroke="#231f20" stroke-width="1.3"/>
<polygon points="222,669.95 225.5625,675.95 218.4375,675.95" fill="#fff" stroke="#231f20" stroke-width="1.3"/>
<polygon points="215.5,681.65 219.25,685.4 215.5,689.15 211.75,685.4" fill="#fff" stroke="#231f20" stroke-width="1.3"/>
<circle cx="290" cy="645.8" r="3.0" fill="#fff" stroke="#231f20" stroke-width="1.3"/>
<rect x="277.40000000000003" y="656.0999999999999" width="5.4" height="5.4" fill="#fff" stroke="#231f20" stroke-width="1.3"/>
<polygon points="281.3,669.25 284.8625,663.25 277.7375,663.25" fill="#fff" stroke="#231f20" stroke-width="1.3"/>
<polygon points="304.35,663.5 298.35,667.0625 298.35,659.9375" fill="#fff" stroke="#231f20" stroke-width="1.3"/>
<polygon points="283,668.05 286.5625,674.05 279.4375,674.05" fill="#fff" stroke="#231f20" stroke-width="1.3"/>
<polygon points="294.65,675 300.65,678.5625 300.65,671.4375" fill="#fff" stroke="#231f20" stroke-width="1.3"/>
<polygon points="290,683.45 293.75,687.2 290,690.95 286.25,687.2" fill="#fff" stroke="#231f20" stroke-width="1.3"/>
<line x1="139.4" y1="660.4" x2="139.4" y2="671.4" stroke="#2e2624" stroke-width="2.4"/>
<line x1="135.9" y1="660.4" x2="142.9" y2="660.4" stroke="#2e2624" stroke-width="2.6" stroke-linecap="round"/>
<line x1="135.9" y1="671.4" x2="142.9" y2="671.4" stroke="#2e2624" stroke-width="2.6" stroke-linecap="round"/>
<line x1="215.5" y1="659.2" x2="215.5" y2="669.5" stroke="#2e2624" stroke-width="2.4"/>
<line x1="212.0" y1="659.2" x2="219.0" y2="659.2" stroke="#2e2624" stroke-width="2.6" stroke-linecap="round"/>
<line x1="212.0" y1="669.5" x2="219.0" y2="669.5" stroke="#2e2624" stroke-width="2.6" stroke-linecap="round"/>
<line x1="290" y1="661.3" x2="290" y2="671.4" stroke="#2e2624" stroke-width="2.4"/>
<line x1="286.5" y1="661.3" x2="293.5" y2="661.3" stroke="#2e2624" stroke-width="2.6" stroke-linecap="round"/>
<line x1="286.5" y1="671.4" x2="293.5" y2="671.4" stroke="#2e2624" stroke-width="2.6" stroke-linecap="round"/>
<line x1="98.4" y1="597.8" x2="98.4" y2="803.7" stroke="#000" stroke-width="2.9"/>
<line x1="90.9" y1="733.3" x2="98.4" y2="733.3" stroke="#000" stroke-width="2.9"/>
<line x1="90.9" y1="666.3" x2="98.4" y2="666.3" stroke="#000" stroke-width="2.9"/>
<line x1="90.9" y1="599.3" x2="98.4" y2="599.3" stroke="#000" stroke-width="2.9"/>
<line x1="423.8" y1="799.4" x2="667.4" y2="799.4" stroke="#000" stroke-width="2.8"/>
<rect x="441.45" y="665.8" width="60.10000000000002" height="133.60000000000002" fill="#ffffff" stroke="#2e2624" stroke-width="2.5"/>
<rect x="517.25" y="664.5" width="60.0" height="134.89999999999998" fill="#049fe6" stroke="#2e2624" stroke-width="2.5"/>
<rect x="593.15" y="664.5" width="59.80000000000007" height="134.89999999999998" fill="#089c4a" stroke="#2e2624" stroke-width="2.5"/>
<rect x="468.6" y="640.9" width="5.4" height="5.4" fill="#fff" stroke="#231f20" stroke-width="1.3"/>
<polygon points="462.9,646.15 466.65,649.9 462.9,653.65 459.15,649.9" fill="#fff" stroke="#231f20" stroke-width="1.3"/>
<polygon points="477.6,649.65 481.1625,655.65 474.0375,655.65" fill="#fff" stroke="#231f20" stroke-width="1.3"/>
<polygon points="456.25,662.7 462.25,666.2625 462.25,659.1375" fill="#fff" stroke="#231f20" stroke-width="1.3"/>
<polygon points="485.55,670.2 479.55,673.7625 479.55,666.6375" fill="#fff" stroke="#231f20" stroke-width="1.3"/>
<circle cx="463.5" cy="676.3" r="3.0" fill="#fff" stroke="#231f20" stroke-width="1.3"/>
<polygon points="471.3,699.65 474.8625,693.65 467.7375,693.65" fill="#fff" stroke="#231f20" stroke-width="1.3"/>
<rect x="544.3" y="639.0" width="5.4" height="5.4" fill="#fff" stroke="#231f20" stroke-width="1.3"/>
<polygon points="537.6,645.45 541.35,649.2 537.6,652.95 533.85,649.2" fill="#fff" stroke="#231f20" stroke-width="1.3"/>
<polygon points="555.4,648.95 558.9625,654.95 551.8375,654.95" fill="#fff" stroke="#231f20" stroke-width="1.3"/>
<polygon points="532.95,663.9 538.95,667.4625 538.95,660.3375" fill="#fff" stroke="#231f20" stroke-width="1.3"/>
<polygon points="562.35,669.7 556.35,673.2625 556.35,666.1375" fill="#fff" stroke="#231f20" stroke-width="1.3"/>
<circle cx="537.6" cy="675.1" r="3.0" fill="#fff" stroke="#231f20" stroke-width="1.3"/>
<polygon points="547,699.65 550.5625,693.65 543.4375,693.65" fill="#fff" stroke="#231f20" stroke-width="1.3"/>
<rect x="620.0" y="640.9" width="5.4" height="5.4" fill="#fff" stroke="#231f20" stroke-width="1.3"/>
<polygon points="614,646.05 617.75,649.8 614,653.55 610.25,649.8" fill="#fff" stroke="#231f20" stroke-width="1.3"/>
<polygon points="629.6,649.05 633.1625,655.05 626.0375,655.05" fill="#fff" stroke="#231f20" stroke-width="1.3"/>
<polygon points="618.05,660.5 612.05,664.0625 612.05,656.9375" fill="#fff" stroke="#231f20" stroke-width="1.3"/>
<polygon points="628.25,663.4 634.25,666.9625 634.25,659.8375" fill="#fff" stroke="#231f20" stroke-width="1.3"/>
<circle cx="622.7" cy="677.4" r="3.0" fill="#fff" stroke="#231f20" stroke-width="1.3"/>
<polygon points="622.7,697.95 626.2625,691.95 619.1375,691.95" fill="#fff" stroke="#231f20" stroke-width="1.3"/>
<line x1="471.3" y1="659.7" x2="471.3" y2="672.5" stroke="#2e2624" stroke-width="2.4"/>
<line x1="467.8" y1="659.7" x2="474.8" y2="659.7" stroke="#2e2624" stroke-width="2.6" stroke-linecap="round"/>
<line x1="467.8" y1="672.5" x2="474.8" y2="672.5" stroke="#2e2624" stroke-width="2.6" stroke-linecap="round"/>
<line x1="547" y1="657.3" x2="547" y2="672" stroke="#2e2624" stroke-width="2.4"/>
<line x1="543.5" y1="657.3" x2="550.5" y2="657.3" stroke="#2e2624" stroke-width="2.6" stroke-linecap="round"/>
<line x1="543.5" y1="672" x2="550.5" y2="672" stroke="#2e2624" stroke-width="2.6" stroke-linecap="round"/>
<line x1="622.7" y1="658.4" x2="622.7" y2="671.3" stroke="#2e2624" stroke-width="2.4"/>
<line x1="619.2" y1="658.4" x2="626.2" y2="658.4" stroke="#2e2624" stroke-width="2.6" stroke-linecap="round"/>
<line x1="619.2" y1="671.3" x2="626.2" y2="671.3" stroke="#2e2624" stroke-width="2.6" stroke-linecap="round"/>
<line x1="431.5" y1="596.1" x2="431.5" y2="803.4" stroke="#000" stroke-width="2.9"/>
<line x1="423.8" y1="732.1" x2="431.5" y2="732.1" stroke="#000" stroke-width="2.9"/>
<line x1="423.8" y1="664.9" x2="431.5" y2="664.9" stroke="#000" stroke-width="2.9"/>
<line x1="423.8" y1="597.6" x2="431.5" y2="597.6" stroke="#000" stroke-width="2.9"/>
<text x="0.80" y="34.20" font-size="34.5" fill="#231f20">A</text>
<text x="88.45" y="35.45" font-size="16" letter-spacing="0.4" fill="#231f20">Control</text>
<text x="278.25" y="11.45" font-size="14.3" letter-spacing="0.92" fill="#231f20">In Exendin-9-39</text>
<text x="299.20" y="35.40" font-size="16" fill="#231f20">GLP-1</text>
<text x="540.25" y="35.25" font-size="16" fill="#231f20">Washout</text>
<text x="587.45" y="208.95" font-size="14.6" letter-spacing="1.1" fill="#231f20">50<tspan dx="-2"> ms</tspan></text>
<text transform="translate(654.60,180.80) rotate(-90)" font-size="13.2" letter-spacing="1.3" fill="#231f20">100 pA</text>
<text x="1.95" y="261.75" font-size="35.5" fill="#231f20">B</text>
<text x="51.50" y="281.10" font-size="20" letter-spacing="0.8" fill="#231f20">150</text>
<text x="51.15" y="394.25" font-size="20" letter-spacing="0.5" fill="#231f20">100</text>
<text x="64.00" y="506.50" font-size="20" letter-spacing="0.5" fill="#231f20">50</text>
<text x="103.00" y="526.45" font-size="19" fill="#231f20">0</text>
<text x="198.10" y="526.45" font-size="19" fill="#231f20">5</text>
<text x="285.50" y="527.75" font-size="19" letter-spacing="2.2" fill="#231f20">10</text>
<text x="380.05" y="527.75" font-size="19" letter-spacing="2.2" fill="#231f20">15</text>
<text x="475.35" y="527.95" font-size="19" letter-spacing="2.2" fill="#231f20">20</text>
<text x="568.90" y="527.95" font-size="19" letter-spacing="2.2" fill="#231f20">25</text>
<text x="662.50" y="527.00" font-size="19" letter-spacing="2.2" fill="#231f20">30</text>
<text x="328.15" y="551.10" font-size="24.8" letter-spacing="0.6" fill="#231f20">Time</text>
<text x="391.20" y="547.80" font-size="21.5" fill="#231f20">(</text>
<text x="401.85" y="551.05" font-size="24.8" letter-spacing="0.3" fill="#231f20">min</text>
<text x="445.10" y="547.80" font-size="21.5" fill="#231f20">)</text>
<text x="203.15" y="306.15" font-size="15.6" letter-spacing="0.05" fill="#231f20">GLP-1 100 nM</text>
<text x="389.45" y="328.65" font-size="15" letter-spacing="0.7" fill="#231f20">In Exendin-9-39</text>
<text x="157.65" y="432.90" font-size="15.5" letter-spacing="0.3" fill="#231f20">ACSF</text>
<text x="301.30" y="433.50" font-size="15.5" letter-spacing="0.4" fill="#231f20">GIP-1</text>
<text x="633.40" y="434.75" font-size="15.5" letter-spacing="1.0" fill="#231f20">Wash</text>
<text transform="translate(40.55,482.15) rotate(-90)" font-size="16.4" letter-spacing="1.8" fill="#231f20">Norm.</text>
<text transform="translate(39.95,425.70) rotate(-90)" font-size="16.4" letter-spacing="1.2" fill="#231f20">Amp.</text>
<text transform="translate(40.50,374.30) rotate(-90)" font-size="16.4" letter-spacing="2.0" fill="#231f20">of</text>
<text transform="translate(41.00,353.50) rotate(-90)" font-size="16.4" fill="#231f20">N1</text>
<text transform="translate(39.55,326.20) rotate(-90)" font-size="16.4" letter-spacing="1.0" fill="#231f20">(<tspan font-size="11" dy="-1.5">%</tspan><tspan dy="1.5">)</tspan></text>
<text x="2.75" y="593.80" font-size="33" font-weight="bold" fill="#231f20">C</text>
<text x="61.25" y="604.45" font-size="14.5" letter-spacing="1.2" fill="#231f20">150</text>
<text x="61.25" y="671.45" font-size="14.5" letter-spacing="1.2" fill="#231f20">100</text>
<text x="70.90" y="737.75" font-size="14.5" letter-spacing="1.0" fill="#231f20">50</text>
<text x="81.05" y="803.95" font-size="14.5" fill="#231f20">0</text>
<text transform="translate(54.20,793.50) rotate(-90)" font-size="16.4" letter-spacing="0.9" fill="#231f20">Norm.</text>
<text transform="translate(54.55,741.05) rotate(-90)" font-size="16.4" letter-spacing="1.8" fill="#231f20">Amp.</text>
<text transform="translate(54.50,692.30) rotate(-90)" font-size="16.4" letter-spacing="2.5" fill="#231f20">of</text>
<text transform="translate(54.65,672.55) rotate(-90)" font-size="16.4" fill="#231f20">N1</text>
<text transform="translate(54.80,644.45) rotate(-90)" font-size="16.4" letter-spacing="1.5" fill="#231f20">(%)</text>
<text transform="translate(143.00,810.90) rotate(38)" font-size="17" letter-spacing="1.4" fill="#231f20">Control</text>
<text transform="translate(206.25,815.00) rotate(34)" font-size="17" letter-spacing="1.5" fill="#231f20">GLP-1</text>
<text transform="translate(290.50,818.75) rotate(38)" font-size="17" letter-spacing="1.0" fill="#231f20">Wash</text>
<text x="336.40" y="593.85" font-size="33" font-weight="bold" fill="#231f20">D</text>
<text x="394.60" y="603.25" font-size="14.5" letter-spacing="1.1" fill="#231f20">150</text>
<text x="394.60" y="670.25" font-size="14.5" letter-spacing="1.1" fill="#231f20">100</text>
<text x="404.25" y="736.45" font-size="14.5" letter-spacing="0.8" fill="#231f20">50</text>
<text x="413.25" y="804.00" font-size="14.5" fill="#231f20">0</text>
<text transform="translate(383.15,772.45) rotate(-90)" font-size="19.7" letter-spacing="1.2" fill="#231f20">Norm.</text>
<text transform="translate(383.30,707.85) rotate(-90)" font-size="19.7" letter-spacing="0.6" fill="#231f20">PPR</text>
<text transform="translate(383.65,661.00) rotate(-90)" font-size="19.7" letter-spacing="1.8" fill="#231f20">(%)</text>
<text transform="translate(471.90,810.40) rotate(38)" font-size="17" letter-spacing="1.5" fill="#231f20">Control</text>
<text transform="translate(541.90,814.50) rotate(34)" font-size="17" letter-spacing="2.2" fill="#231f20">GLP-1</text>
<text transform="translate(621.80,813.75) rotate(36)" font-size="17" letter-spacing="2.2" fill="#231f20">Wash</text>
</svg>
</body></html>
